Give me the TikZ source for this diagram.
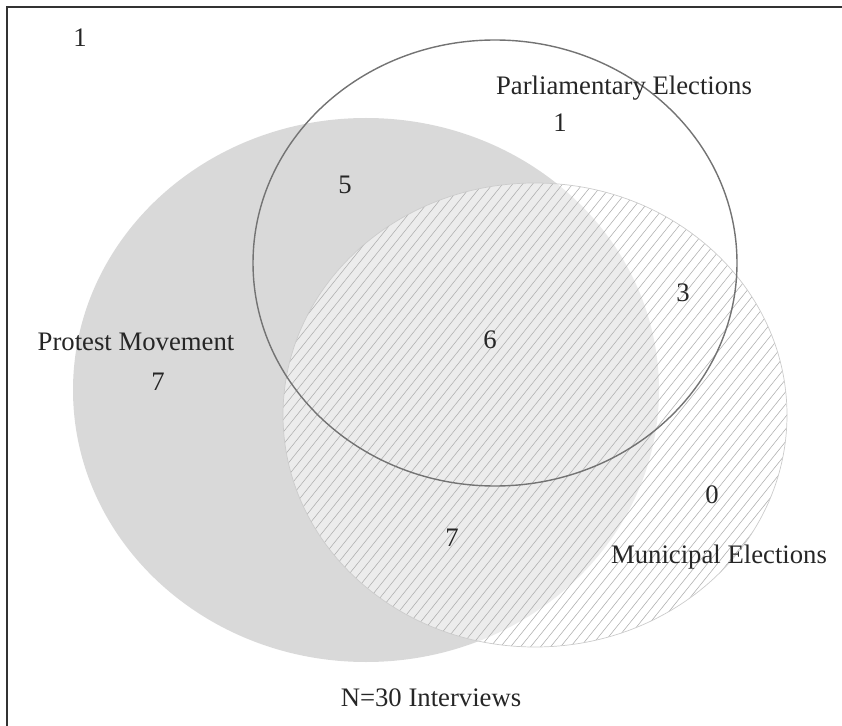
\documentclass[tikz,border=0pt]{standalone}
\usepackage{fontspec}
\setmainfont{Liberation Serif}

\begin{document}
\begin{tikzpicture}[x=0.02cm, y=-0.02cm,
setlabel/.style={font=\fontsize{15.2}{18}\selectfont, text=black!85, inner sep=0pt},
hatchline/.style={draw=gray!65, line width=0.3pt}
]
\useasboundingbox (0,0) rectangle (842,726);
\draw [black!80, line width=1.1pt] (7,726) -- (7,7) -- (842,7);

    % protest movement
    \fill [black!15] (366,390) ellipse [x radius=293, y radius=272];

    % municipal elections
    \fill [white, opacity=0.5] (535,415) ellipse [x radius=252, y radius=232];
    \begin{scope}
    \clip (535,415) ellipse [x radius=252, y radius=232];
    \foreach \x in {-200,-190,...,800}
        \draw [hatchline] (\x,660) -- (\x+410,150);
    \end{scope}
    \draw [gray!40, line width=0.4pt] (535,415) ellipse [x radius=252, y radius=232];

    % parliamentary elections
    \draw [gray!90!black, line width=0.8pt] (495,263) ellipse [x radius=242, y radius=223];

    \node [setlabel] (none) at (80,38) {1};
    \node [setlabel] (parl) at (624,88) {Parliamentary Elections};
    \node [setlabel] (parlonly) at (560,123) {1};
    \node [setlabel] (protparl) at (345,185) {5};
    \node [setlabel] (parlmun) at (683,293) {3};
    \node [setlabel] (prot) at (136,342) {Protest Movement};
    \node [setlabel] (protonly) at (158,382) {7};
    \node [setlabel] (all) at (490,340) {6};
    \node [setlabel] (munonly) at (712,495) {0};
    \node [setlabel] (protmun) at (452,538) {7};
    \node [setlabel] (mun) at (719,557) {Municipal Elections};
    \node [setlabel] (total) at (431,698) {N=30 Interviews};
\end{tikzpicture}
\end{document}
